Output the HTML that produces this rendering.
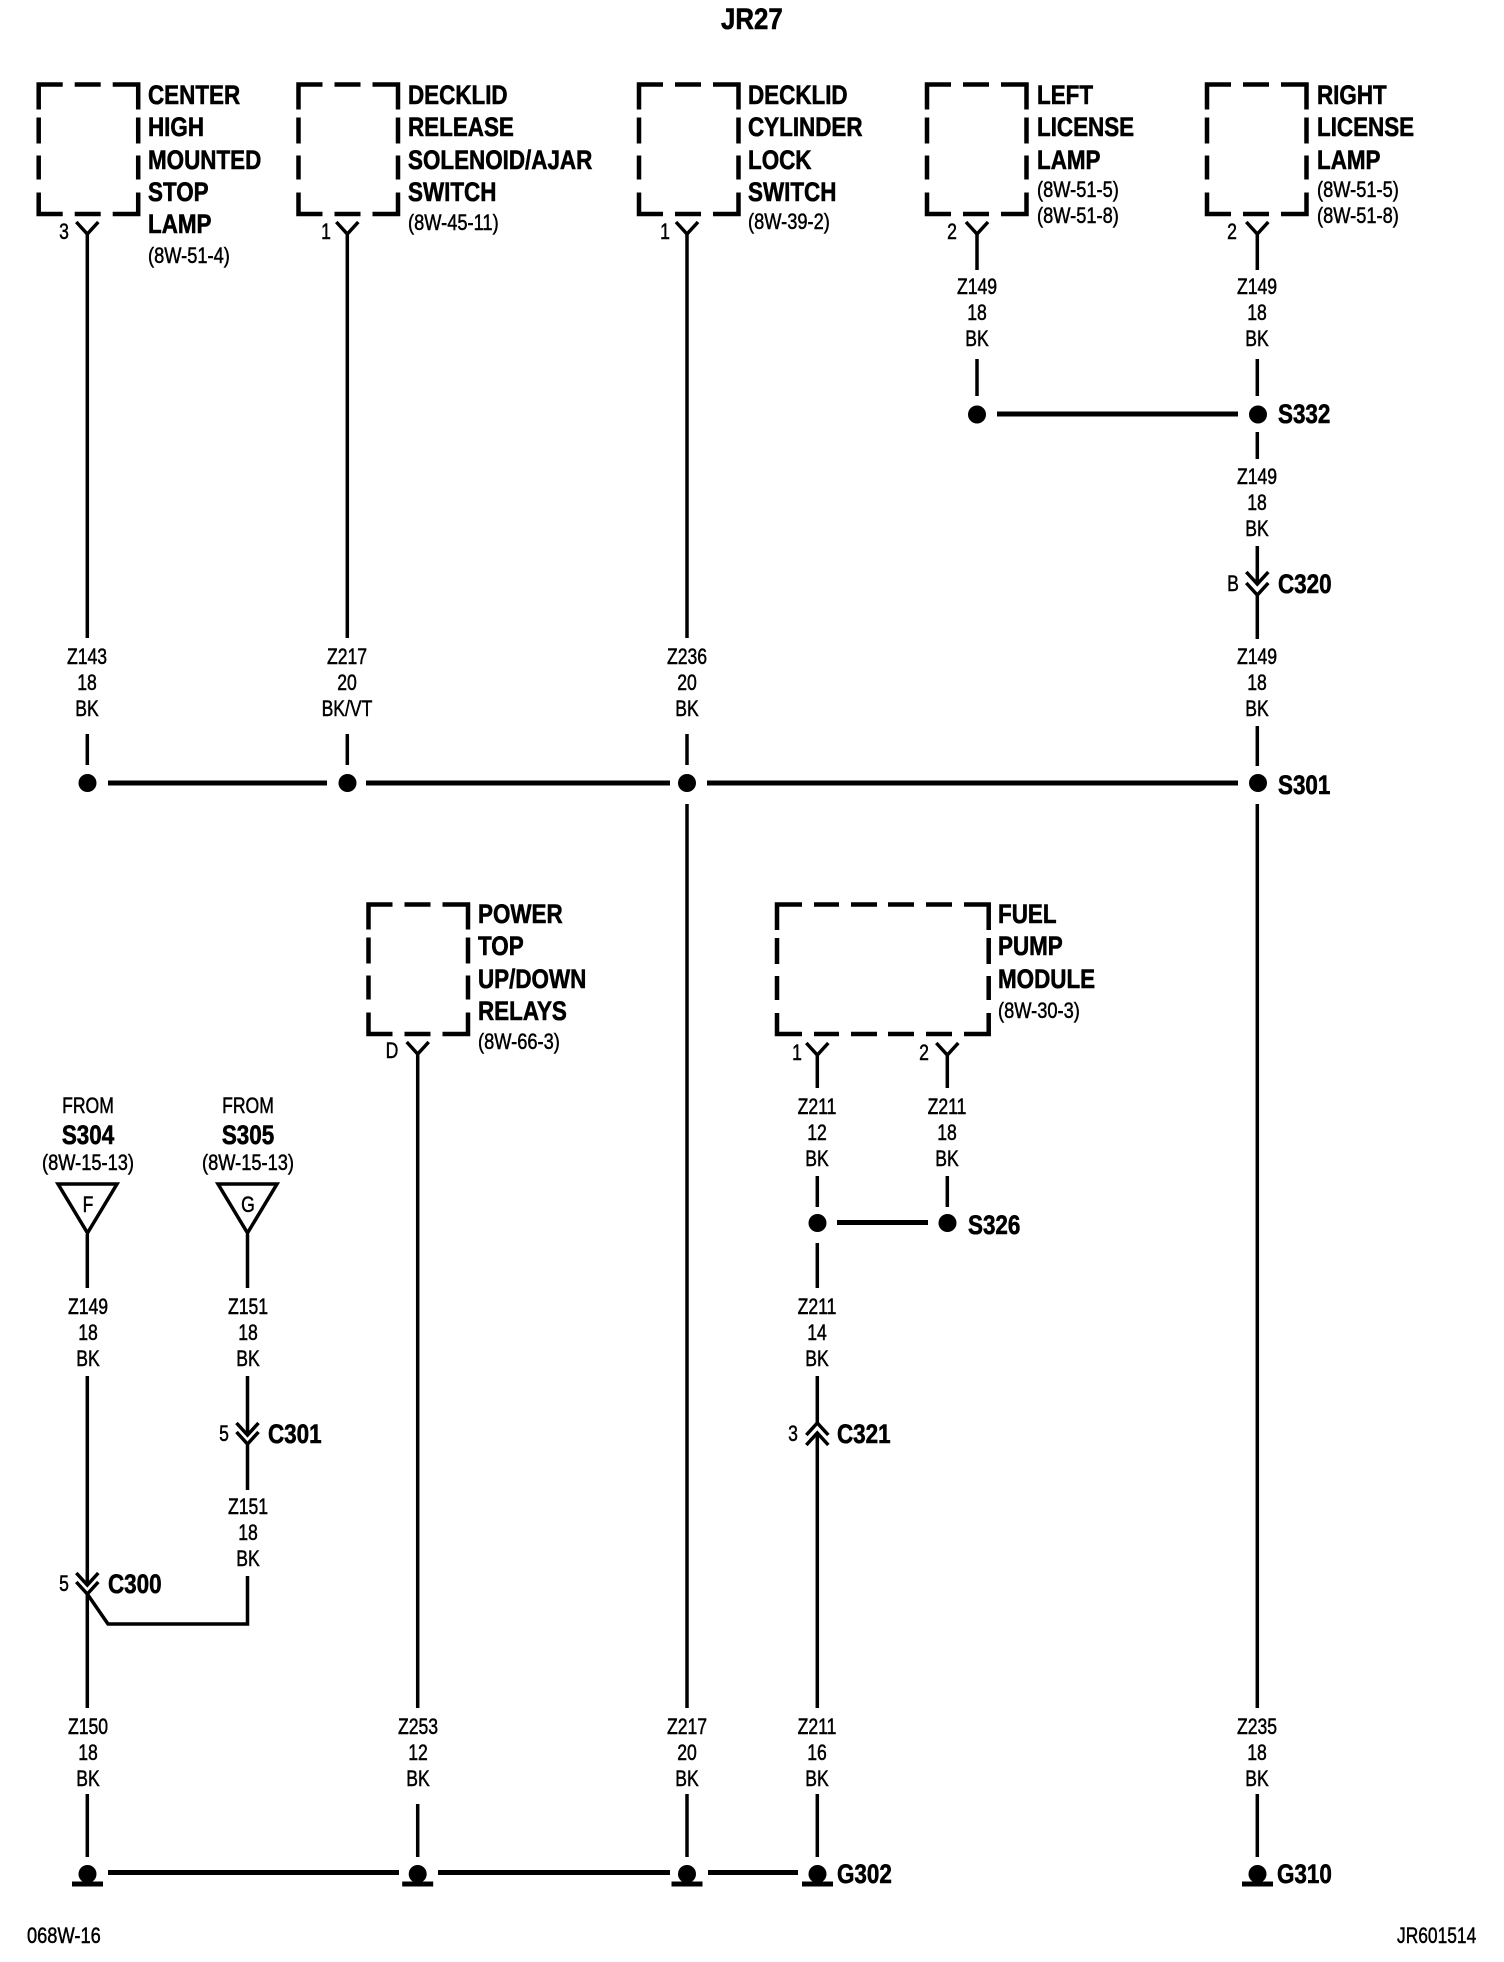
<!DOCTYPE html>
<html><head><meta charset="utf-8"><style>
html,body{margin:0;padding:0;background:#fff}
#p{position:relative;width:1504px;height:1962px;overflow:hidden;background:#fff;color:#000;font-family:"Liberation Sans",sans-serif}
svg{position:absolute;left:0;top:0}
#p div{position:absolute;white-space:nowrap}
.w{width:100px;text-align:center;font-size:22px;line-height:26px;transform:scaleX(.8);-webkit-text-stroke:.5px #000}
.c{width:140px;text-align:center;font-size:22px;line-height:26px;transform:scaleX(.83);-webkit-text-stroke:.5px #000}
.b{font-weight:bold;font-size:27px;line-height:32.3px;transform-origin:0 0;transform:scaleX(.83);-webkit-text-stroke:.6px #000}
.r{font-size:22px;line-height:26px;transform-origin:0 0;transform:scaleX(.83);-webkit-text-stroke:.5px #000}
.cb{width:100px;text-align:center;font-weight:bold;font-size:27px;line-height:32px;transform:scaleX(.83);-webkit-text-stroke:.6px #000}
</style></head><body><div id="p">
<svg width="1504" height="1962" viewBox="0 0 1504 1962" xmlns="http://www.w3.org/2000/svg">
<defs>
<g id="box" fill="none" stroke="#000" stroke-width="4.5">
<path d="M0,25V0H24M36,0H62M74,0H99.5V25M99.5,33V59M99.5,71V95M99.5,108V129.5H74M62,129.5H36M24,129.5H0V108M0,95V71M0,59V33"/>
</g>
<g id="y" fill="none" stroke="#000" stroke-width="3.5"><path d="M-11,-12L0,0L11,-12"/></g>
<g id="dot"><circle r="9" fill="#000"/></g>
<g id="gnd"><circle r="9" fill="#000"/><rect x="-15.5" y="7.5" width="31" height="5" fill="#000"/></g>
</defs>
<use href="#box" x="38.7" y="84.5"/>
<use href="#box" x="298.5" y="84.5"/>
<use href="#box" x="639" y="84.5"/>
<use href="#box" x="927" y="84.5"/>
<use href="#box" x="1207" y="84.5"/>
<use href="#box" x="368.5" y="904.5"/>
<g fill="none" stroke="#000" stroke-width="4.5">
<path d="M777,930V904.5H802M814,904.5H839M851,904.5H877M888,904.5H914M926,904.5H952M964,904.5H988.7V930M988.7,938V964M988.7,976V1000M988.7,1013V1034H964M952,1034H926M914,1034H888M877,1034H851M839,1034H814M802,1034H777V1013M777,1000V976M777,964V938"/>
</g>
<!-- pin connectors -->
<use href="#y" x="87.3" y="234"/>
<use href="#y" x="347.3" y="234"/>
<use href="#y" x="687" y="234"/>
<use href="#y" x="977" y="234"/>
<use href="#y" x="1257.3" y="234"/>
<use href="#y" x="417.7" y="1054"/>
<use href="#y" x="817.3" y="1055"/>
<use href="#y" x="947.3" y="1055"/>
<!-- C320 -->
<use href="#y" x="1257.3" y="584"/>
<use href="#y" x="1257.3" y="595"/>
<!-- C301 / C300 -->
<use href="#y" x="247.5" y="1435"/>
<use href="#y" x="247.5" y="1444"/>
<use href="#y" x="87.3" y="1585"/>
<use href="#y" x="87.3" y="1594"/>
<!-- C321 -->
<use href="#y" transform="translate(817.3,1423) scale(1,-1)"/>
<use href="#y" transform="translate(817.3,1433) scale(1,-1)"/>
<!-- wires -->
<g fill="none" stroke="#000" stroke-width="3.5">
<path d="M87.3,234V638M87.3,734V765"/>
<path d="M347.3,234V638M347.3,734V765"/>
<path d="M687,234V638M687,734V765M687,804V1708M687,1794V1857"/>
<path d="M977,234V270M977,359V396"/>
<path d="M1257.3,234V270M1257.3,359V396M1257.3,432V459M1257.3,546V584M1257.3,595V639M1257.3,726V766M1257.3,804V1708M1257.3,1794V1857"/>
<path d="M417.7,1054V1708M417.7,1804V1857"/>
<path d="M817.3,1055V1088M817.3,1176V1207M817.3,1243V1288M817.3,1376V1423M817.3,1433V1708M817.3,1794V1857"/>
<path d="M947.3,1055V1088M947.3,1176V1207"/>
<path d="M87.3,1234V1288M87.3,1376V1585M87.3,1594V1708M87.3,1794V1857"/>
<path d="M247.5,1234V1288M247.5,1376V1435M247.5,1444V1490M247.5,1576V1624H108L87.3,1594"/>
</g>
<!-- triangles -->
<g fill="none" stroke="#000" stroke-width="3.5">
<path d="M58,1184H117L87.5,1233Z"/>
<path d="M218,1184H277L247.5,1233Z"/>
</g>
<!-- buses -->
<g fill="none" stroke="#000" stroke-width="5">
<path d="M997,414H1238"/>
<path d="M108,783H327M366,783H670M707,783H1238"/>
<path d="M837,1222.5H928"/>
<path d="M108,1872.5H399M438,1872.5H670M708,1872.5H798"/>
</g>
<use href="#dot" x="977" y="414.5"/>
<use href="#dot" x="1258" y="414.5"/>
<use href="#dot" x="87.5" y="783"/>
<use href="#dot" x="347.5" y="783"/>
<use href="#dot" x="687" y="783"/>
<use href="#dot" x="1258" y="783"/>
<use href="#dot" x="817.5" y="1223"/>
<use href="#dot" x="947.5" y="1223"/>
<use href="#gnd" x="87.5" y="1874"/>
<use href="#gnd" x="417.7" y="1874"/>
<use href="#gnd" x="687" y="1874"/>
<use href="#gnd" x="817.5" y="1874"/>
<use href="#gnd" x="1257.5" y="1874"/>
</svg>

<div class="b" style="left:721px;top:4px;font-size:30px;transform:scaleX(.86)">JR27</div>

<div class="b" style="left:148px;top:79px">CENTER<br>HIGH<br>MOUNTED<br>STOP<br>LAMP</div>
<div class="r" style="left:148px;top:243px">(8W-51-4)</div>
<div class="b" style="left:408px;top:79px">DECKLID<br>RELEASE<br>SOLENOID/AJAR<br>SWITCH</div>
<div class="r" style="left:408px;top:210px">(8W-45-11)</div>
<div class="b" style="left:748px;top:79px">DECKLID<br>CYLINDER<br>LOCK<br>SWITCH</div>
<div class="r" style="left:748px;top:209px">(8W-39-2)</div>
<div class="b" style="left:1037px;top:79px">LEFT<br>LICENSE<br>LAMP</div>
<div class="r" style="left:1037px;top:177px">(8W-51-5)<br>(8W-51-8)</div>
<div class="b" style="left:1317px;top:79px">RIGHT<br>LICENSE<br>LAMP</div>
<div class="r" style="left:1317px;top:177px">(8W-51-5)<br>(8W-51-8)</div>

<div class="w" style="left:14px;top:219px">3</div>
<div class="w" style="left:276px;top:219px">1</div>
<div class="w" style="left:615px;top:219px">1</div>
<div class="w" style="left:902px;top:219px">2</div>
<div class="w" style="left:1182px;top:219px">2</div>

<div class="w" style="left:927px;top:274px">Z149<br>18<br>BK</div>
<div class="w" style="left:1207.3px;top:274px">Z149<br>18<br>BK</div>
<div class="b" style="left:1278px;top:398px">S332</div>
<div class="w" style="left:1207.3px;top:463.5px">Z149<br>18<br>BK</div>
<div class="w" style="left:1182.5px;top:571px">B</div>
<div class="b" style="left:1278px;top:568px">C320</div>
<div class="w" style="left:1207.3px;top:643.5px">Z149<br>18<br>BK</div>
<div class="b" style="left:1278px;top:769px">S301</div>

<div class="w" style="left:37.3px;top:643.5px">Z143<br>18<br>BK</div>
<div class="w" style="left:297.3px;top:643.5px">Z217<br>20<br>BK/VT</div>
<div class="w" style="left:637px;top:643.5px">Z236<br>20<br>BK</div>

<div class="b" style="left:477.5px;top:898px">POWER<br>TOP<br>UP/DOWN<br>RELAYS</div>
<div class="r" style="left:477.5px;top:1029px">(8W-66-3)</div>
<div class="w" style="left:342px;top:1038px">D</div>

<div class="b" style="left:998px;top:898px">FUEL<br>PUMP<br>MODULE</div>
<div class="r" style="left:998px;top:998px">(8W-30-3)</div>
<div class="w" style="left:747px;top:1040px">1</div>
<div class="w" style="left:874px;top:1040px">2</div>
<div class="w" style="left:767.3px;top:1094px">Z211<br>12<br>BK</div>
<div class="w" style="left:897.3px;top:1094px">Z211<br>18<br>BK</div>
<div class="b" style="left:968px;top:1209px">S326</div>
<div class="w" style="left:767.3px;top:1294px">Z211<br>14<br>BK</div>
<div class="w" style="left:743px;top:1421px">3</div>
<div class="b" style="left:837px;top:1418px">C321</div>

<div class="w" style="left:37.5px;top:1093px">FROM</div>
<div class="cb" style="left:37.5px;top:1119px">S304</div>
<div class="c" style="left:17.5px;top:1150px">(8W-15-13)</div>
<div class="w" style="left:197.5px;top:1093px">FROM</div>
<div class="cb" style="left:197.5px;top:1119px">S305</div>
<div class="c" style="left:177.5px;top:1150px">(8W-15-13)</div>
<div class="w" style="left:37.5px;top:1192px">F</div>
<div class="w" style="left:197.5px;top:1192px">G</div>
<div class="w" style="left:37.5px;top:1293.5px">Z149<br>18<br>BK</div>
<div class="w" style="left:197.5px;top:1293.5px">Z151<br>18<br>BK</div>
<div class="w" style="left:174px;top:1421px">5</div>
<div class="b" style="left:268px;top:1418px">C301</div>
<div class="w" style="left:197.5px;top:1494px">Z151<br>18<br>BK</div>
<div class="w" style="left:14px;top:1571px">5</div>
<div class="b" style="left:108px;top:1568px">C300</div>

<div class="w" style="left:37.5px;top:1713.5px">Z150<br>18<br>BK</div>
<div class="w" style="left:367.7px;top:1713.5px">Z253<br>12<br>BK</div>
<div class="w" style="left:637px;top:1713.5px">Z217<br>20<br>BK</div>
<div class="w" style="left:767.3px;top:1713.5px">Z211<br>16<br>BK</div>
<div class="w" style="left:1207.3px;top:1713.5px">Z235<br>18<br>BK</div>
<div class="b" style="left:837px;top:1858px">G302</div>
<div class="b" style="left:1277px;top:1858px">G310</div>

<div class="r" style="left:27px;top:1923px">068W-16</div>
<div class="r" style="left:1397px;top:1923px;transform:scaleX(.79)">JR601514</div>
</div></body></html>
